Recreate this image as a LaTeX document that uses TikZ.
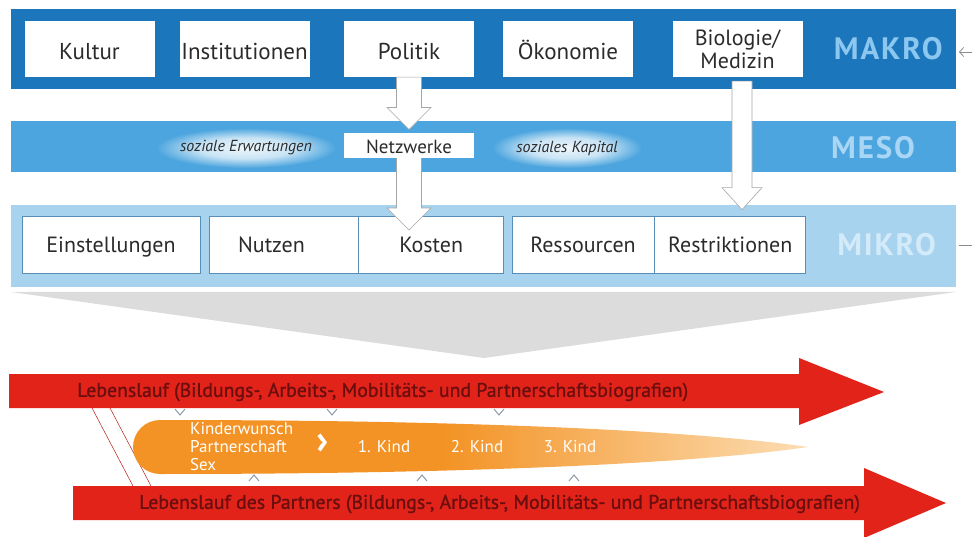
\documentclass[tikz,border=0pt]{standalone}
\usepackage{fontspec}
\setmainfont{PT Sans}
\usetikzlibrary{positioning,calc,arrows.meta}

\definecolor{makroblau}{HTML}{1C76BC}
\definecolor{mesoblau}{HTML}{4CA5DE}
\definecolor{mikroblau}{HTML}{A8D3EF}
\definecolor{makroschrift}{HTML}{8CC7F0}
\definecolor{mesoschrift}{HTML}{A9D6F5}
\definecolor{mikroschrift}{HTML}{D3EAF9}
\definecolor{kastenlinie}{HTML}{5A8DB5}
\definecolor{schrift}{HTML}{2B2B2B}
\definecolor{laufrot}{HTML}{E2231A}
\definecolor{dunkelrot}{HTML}{6A0E0E}
\definecolor{orangeA}{HTML}{F39325}
\definecolor{orangeB}{HTML}{FCDDB3}
\definecolor{trichter}{HTML}{DCDCDC}
\definecolor{winkel}{HTML}{8C9BA8}

\pgfdeclarehorizontalshading{kindverlauf}{100bp}{color(0bp)=(orangeA); color(48bp)=(orangeA); color(75bp)=(orangeB); color(100bp)=(orangeB)}
\pgfdeclareradialshading{schein}{\pgfpoint{0bp}{0bp}}{color(0bp)=(white!90!mesoblau); color(13bp)=(white!70!mesoblau); color(25bp)=(mesoblau); color(50bp)=(mesoblau)}

\tikzset{
  basis/.style={fill=white, text=schrift, minimum width=130pt, minimum height=56pt,
    inner sep=1pt, font=\fontsize{23}{24}\selectfont},
  kasten/.style={basis, text height=24pt, text depth=2pt},
  mikrokasten/.style={basis, draw=kastenlinie, line width=0.7pt, minimum height=57pt,
    font=\fontsize{22}{23}\selectfont, text height=19pt, text depth=2pt},
  ebene/.style={anchor=west, inner sep=0pt, font=\fontsize{31}{32}\selectfont\bfseries\addfontfeature{LetterSpace=6}},
  hohlpfeil/.style={fill=white, draw=black!35, line width=0.6pt},
  lauftext/.style={text=dunkelrot, anchor=west, inner sep=0pt, font=\fontsize{19.8}{20}\selectfont\addfontfeature{FakeBold=1}},
  kindtext/.style={text=white, inner sep=0pt, font=\fontsize{17}{18}\selectfont},
  erwartung/.style={text=schrift, inner sep=0pt, font=\fontsize{16}{17}\selectfont\itshape},
}

% hollow arrow: from, to, half shaft, half head
\newcommand{\hohlpfeil}[4]{%
  \path[hohlpfeil] let \p1=(#1), \p2=(#2) in
    (\x1-#3,\y1) -- (\x1+#3,\y1) -- (\x1+#3,\y2+22pt) -- (\x1+#4,\y2+22pt)
    -- (\x1,\y2) -- (\x1-#4,\y2+22pt) -- (\x1-#3,\y2+22pt) -- cycle;}

\begin{document}
\begin{tikzpicture}[x=1pt, y=-1pt]
  \useasboundingbox (0,0) rectangle (972,537);

  % bands
  \fill[makroblau] (11,9) rectangle (956,89);
  \fill[mesoblau] (11,121) rectangle (956,172);
  \fill[mikroblau] (11,205) rectangle (956,287);
  \fill[trichter] (11,292) -- (956,292) -- (484,358) -- cycle;

  % MAKRO
  \node[kasten] (kultur) at (89.5,49) {Kultur};
  \node[kasten] (institutionen) at (244.5,49) {Institutionen};
  \node[kasten] (politik) at (409,49) {Politik};
  \node[kasten] (oekonomie) at (568,49) {Ökonomie};
  \node[basis, align=center, font=\fontsize{22}{23}\selectfont] (bio) at (737.5,49) {Biologie/\\Medizin};
  \node[ebene, text=makroschrift, right=31pt of bio] (makro) {MAKRO};
  \coordinate (pfeilfuss) at (975,52);
  \coordinate (pfeilkopf) at (959,52);
  \draw[black!45, line width=0.8pt, -{Straight Barb[length=4pt,width=9pt]}] (pfeilfuss) -- (pfeilkopf);

  % MESO
  \shade[shading=schein] (246,148) ellipse [x radius=90, y radius=20];
  \shade[shading=schein] (567,148) ellipse [x radius=75, y radius=20];
  \node[erwartung] (erwartungen) at (246,148) {soziale Erwartungen};
  \node[erwartung] (kapital) at (567,148) {soziales Kapital};
  \node[ebene, text=mesoschrift] (meso) at (831,148) {MESO};

  % MIKRO
  \node[mikrokasten, minimum width=178pt] (einstellungen) at (111,244.5) {Einstellungen};
  \node[mikrokasten, minimum width=149pt] (nutzen) at (283.5,244.5) {Nutzen\hspace*{24pt}};
  \node[mikrokasten, minimum width=145pt, right=0pt of nutzen] (kosten) {Kosten};
  \node[mikrokasten, minimum width=142pt] (ressourcen) at (583,244.5) {Ressourcen};
  \node[mikrokasten, minimum width=151pt, right=0pt of ressourcen] (restriktionen) {Restriktionen};
  \node[ebene, text=mikroschrift, right=31pt of restriktionen] (mikro) {MIKRO};
  \coordinate (strichA) at (959,245);
  \coordinate (strichB) at (975,245);
  \draw[black!45, line width=0.8pt] (strichA) -- (strichB);

  % hollow arrows
  \coordinate (netzmitte) at (409,145.5);
  \coordinate (ziel1) at ($(netzmitte)+(0,-16)$);
  \coordinate (ziel2) at ($(netzmitte |- mikro.north)+(0,-3)$);
  \coordinate (ziel3) at ($(bio.south |- restriktionen.north)+(4.5,-6)$);
  \hohlpfeil{politik.south}{ziel1}{12.5pt}{22pt}
  \hohlpfeil{$(netzmitte)+(0,10)$}{ziel2}{12.5pt}{22pt}
  \hohlpfeil{$(bio.south)+(4.5,4)$}{ziel3}{10pt}{20pt}
  \node[basis, minimum height=25pt, font=\fontsize{19}{20}\selectfont, text height=19pt, text depth=2pt] (netzwerke) at (netzmitte) {Netzwerke};

  % life courses
  \fill[laufrot] (9,374) -- (799,374) -- (799,358) -- (884,392) -- (799,425) -- (799,408) -- (9,408) -- cycle;
  \fill[laufrot] (73,486) -- (864,486) -- (864,468) -- (946,503) -- (864,538) -- (864,520) -- (73,520) -- cycle;
  \node[lauftext] (lauf) at (77,392) {Lebenslauf (Bildungs-, Arbeits-, Mobilitäts- und Partnerschaftsbiografien)};
  \node[lauftext] (partnerlauf) at (139,504) {Lebenslauf des Partners (Bildungs-, Arbeits-, Mobilitäts- und Partnerschaftsbiografien)};

  \coordinate (linieA1) at (92,408);
  \coordinate (linieA2) at (133,486);
  \coordinate (linieB1) at (110,408);
  \coordinate (linieB2) at (151,486);
  \draw[laufrot!80!black, line width=0.5pt] (linieA1) -- (linieA2);
  \draw[laufrot!80!black, line width=0.5pt] (linieB1) -- (linieB2);

  % fertility course
  \shade[shading=kindverlauf] (160,420) .. controls (520,420) and (720,434) .. (808,447)
    .. controls (720,460) and (520,474) .. (160,474) arc[start angle=90, end angle=270, radius=27] -- cycle;
  \node[kindtext, align=left, anchor=west] (wunsch) at (190,447) {Kinderwunsch\\Partnerschaft\\Sex};
  \node[kindtext, font=\fontsize{40}{40}\selectfont\bfseries] (weiter) at (323,444) {›};
  \node[kindtext] (kind1) at (384,447) {1. Kind};
  \node[kindtext] (kind2) at (477,447) {2. Kind};
  \node[kindtext] (kind3) at (570,447) {3. Kind};

  \foreach \x in {180,332,499}
    \draw[winkel, line width=1pt] (\x-5,409) -- (\x,415) -- (\x+5,409);
  \foreach \x in {254,422,574}
    \draw[winkel, line width=1pt] (\x-5,481) -- (\x,475) -- (\x+5,481);
\end{tikzpicture}
\end{document}
